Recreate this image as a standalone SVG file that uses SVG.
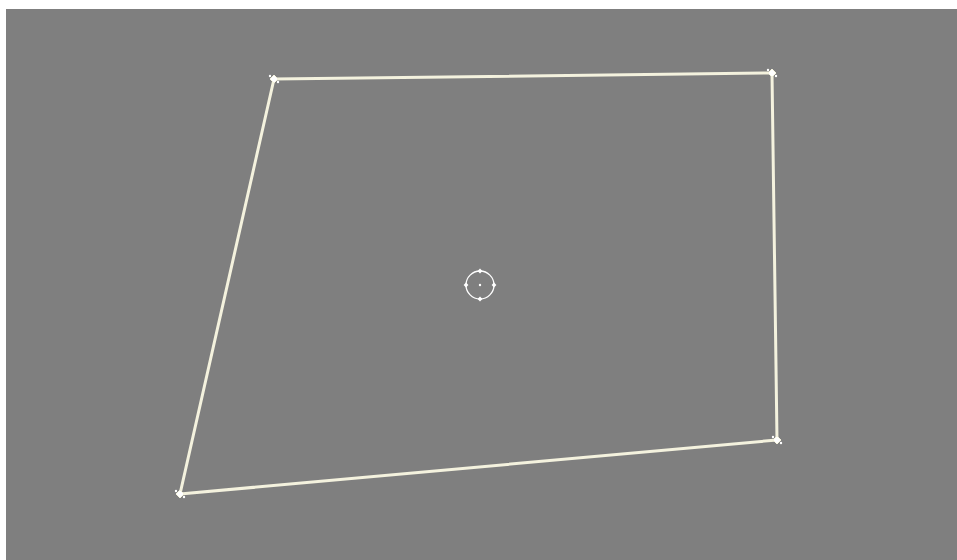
<svg xmlns="http://www.w3.org/2000/svg" width="957" height="560" viewBox="0 0 957 560">
<style>
.edge{fill:none;stroke:#f4f2de;stroke-width:3;stroke-linejoin:round}
.v{fill:#ffffff;stroke:#f4f2de;stroke-width:1}
.c{fill:none;stroke:#ffffff;stroke-width:1.3}
</style>
<defs>
<g id="dia">
<path d="M0,-4 L4,0 L0,4 L-4,0 Z" fill="#ffffff" stroke="#f4f2de" stroke-width="1"/>
<circle cx="-4" cy="-3" r="1.2" fill="#ffffff"/>
<circle cx="4" cy="3" r="1.2" fill="#ffffff"/>
</g>
<path id="sd" d="M0,-2.4 L2.4,0 L0,2.4 L-2.4,0 Z" fill="#ffffff"/>
</defs>
<rect x="0" y="0" width="957" height="560" fill="#ffffff"/>
<rect x="6" y="9" width="951" height="551" fill="#7f7f7f"/>
<g id="connectors">
<polygon class="edge" points="274,79 772,73 777,440 180,494"/>
</g>
<g id="v1"><use href="#dia" x="274" y="79"/></g>
<g id="v2"><use href="#dia" x="772" y="73"/></g>
<g id="v3"><use href="#dia" x="777" y="440"/></g>
<g id="v4"><use href="#dia" x="180" y="494"/></g>
<g id="center">
<circle cx="480" cy="285" r="14" class="c"/>
<circle cx="480" cy="285" r="1.2" fill="#ffffff"/>
<use href="#sd" x="480" y="271"/>
<use href="#sd" x="494" y="285"/>
<use href="#sd" x="480" y="299"/>
<use href="#sd" x="466" y="285"/>
</g>
</svg>
